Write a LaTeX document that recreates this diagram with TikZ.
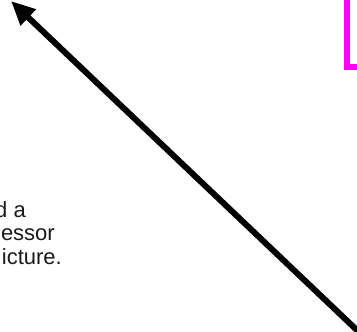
\documentclass[tikz,border=0pt]{standalone}
\usepackage{fontspec}
\setmainfont{Liberation Sans}
\usetikzlibrary{arrows.meta}
\tikzset{
  bigarrow/.style={line width=6pt, -{Triangle[length=24pt,width=21pt]}},
  bracket/.style={draw=magenta, line width=6pt},
  txt/.style={inner sep=0pt, anchor=base east, text=black!90, font=\fontsize{22pt}{24pt}\selectfont}
}
\definecolor{magenta}{RGB}{255,0,255}
\begin{document}
\begin{tikzpicture}[x=1pt,y=-1pt]
\useasboundingbox (0,0) rectangle (357,332);
\clip (0,0) rectangle (357,332);
\coordinate (tail) at (361,334);
\coordinate (tip) at (11,1);
\draw[bigarrow] (tail) -- (tip);
\coordinate (b1) at (347,-5);
\coordinate (b2) at (347,67);
\coordinate (b3) at (362,67);
\draw[bracket] (b1) -- (b2) -- (b3);
\node[txt] (l1) at (26,217) {d a};
\node[txt] (l2) at (55,240.5) {essor};
\node[txt] (l3) at (62,264) {icture.};
\end{tikzpicture}
\end{document}
